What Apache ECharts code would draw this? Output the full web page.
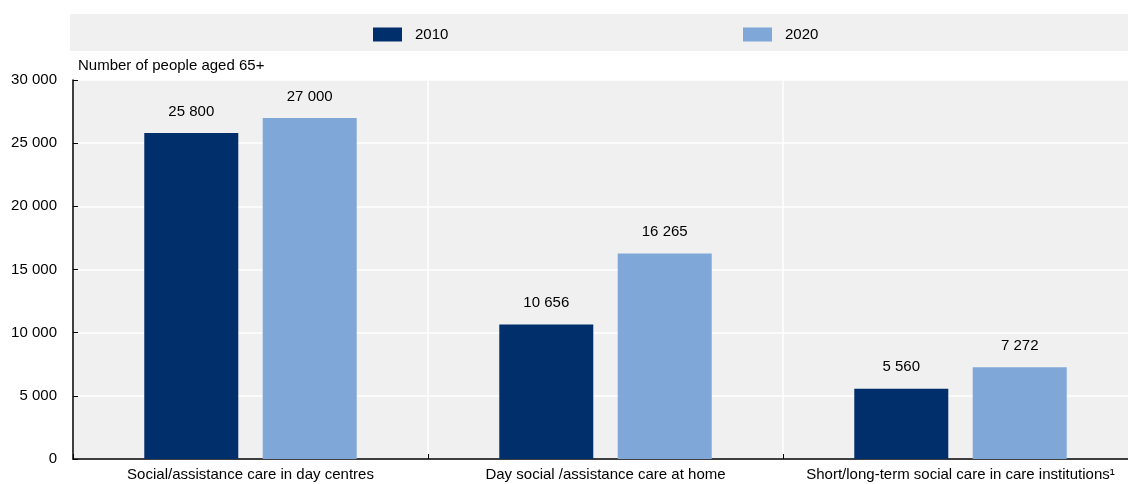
<!DOCTYPE html>
<html>
<head>
<meta charset="utf-8">
<script src="https://cdn.jsdelivr.net/npm/echarts@6/dist/echarts.min.js"></script>
<style>
  html, body { margin: 0; padding: 0; background: #ffffff; }
  #chart { width: 1128px; height: 484px; }
</style>
</head>
<body>
<div id="chart"></div>
<script>
// Care services for people aged 65+, 2010 vs 2020
const categories = [
  'Social/assistance care in day centres',
  'Day social /assistance care at home',
  'Short/long-term social care in care institutions\u00B9'
];
const values2010 = [25800, 10656, 5560];
const values2020 = [27000, 16265, 7272];
const yTicks = [0, 5000, 10000, 15000, 20000, 25000, 30000];
const axisTitle = 'Number of people aged 65+';

const FONT = '"Liberation Sans", Arial, sans-serif';
const FS = 15;
const TEXT = '#000000';
const fmt = v => String(v).replace(/\B(?=(\d{3})+(?!\d))/g, ' ');

const chart = echarts.init(document.getElementById('chart'), null, { renderer: 'canvas' });

const barLabel = {
  show: true,
  position: 'top',
  distance: 14,
  color: TEXT,
  fontFamily: FONT,
  fontSize: FS,
  formatter: p => fmt(p.value)
};

const legendBase = {
  top: 27,
  padding: 0,
  icon: 'rect',
  itemWidth: 29, itemHeight: 14,
  textStyle: { fontSize: FS, color: TEXT, fontFamily: FONT, padding: [0, 0, 2, 8] },
  selectedMode: false
};

chart.setOption({
  animation: false,
  textStyle: { fontFamily: FONT },
  graphic: [{
    type: 'rect',
    left: 70,
    top: 14,
    shape: { width: 1058, height: 37 },
    style: { fill: '#f0f0f0' },
    z: -1
  }],
  legend: [
    Object.assign({ data: ['2010'], left: 373 }, legendBase),
    Object.assign({ data: ['2020'], left: 743 }, legendBase)
  ],
  grid: {
    left: 73, top: 80, width: 1065, height: 379,
    outerBoundsMode: 'none',
    containLabel: false,
    show: true, backgroundColor: '#f0f0f0', borderWidth: 0
  },
  xAxis: {
    type: 'category',
    data: categories,
    axisLine: { lineStyle: { color: '#000', width: 1.5 } },
    axisTick: { show: true, inside: true, length: 5, interval: 0, lineStyle: { color: '#000' } },
    axisLabel: { color: TEXT, fontSize: FS, fontFamily: FONT, margin: 8, interval: 0 },
    splitLine: { show: true, interval: 0, lineStyle: { color: '#ffffff', width: 1.5 } }
  },
  yAxis: {
    type: 'value',
    min: yTicks[0], max: yTicks[yTicks.length - 1], interval: 5000,
    name: axisTitle,
    nameLocation: 'end',
    nameGap: 7,
    nameTextStyle: { color: TEXT, fontSize: FS, fontFamily: FONT, align: 'left', padding: [0, 0, 0, 5] },
    axisLine: { show: true, lineStyle: { color: '#000', width: 1.5 } },
    axisTick: { show: true, inside: true, length: 5, lineStyle: { color: '#000' } },
    axisLabel: { color: TEXT, fontSize: FS, fontFamily: FONT, margin: 16, formatter: v => fmt(v) },
    splitLine: { show: true, lineStyle: { color: '#ffffff', width: 1.5 } }
  },
  series: [
    {
      name: '2010', type: 'bar', data: values2010,
      barWidth: 94, barGap: '26%',
      itemStyle: { color: '#002f6c' },
      label: barLabel
    },
    {
      name: '2020', type: 'bar', data: values2020,
      barWidth: 94,
      itemStyle: { color: '#7fa8d9' },
      label: barLabel
    }
  ]
});
</script>
</body>
</html>
